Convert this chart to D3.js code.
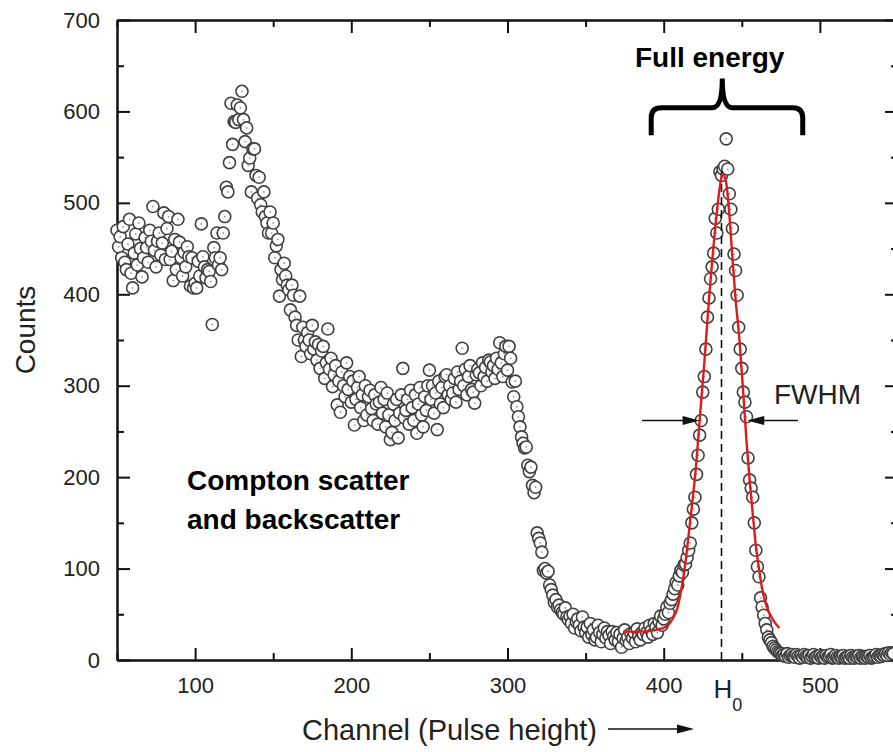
<!DOCTYPE html>
<html>
<head>
  <meta charset="utf-8">
  <title>Gamma spectrum</title>
  <style>
    body { margin: 0; background: #fff; }
    text { font-family: "Liberation Sans", Arial, sans-serif; }
  </style>
</head>
<body>
  <div id="plot"></div>
  <script src="https://cdn.jsdelivr.net/npm/d3@7"></script>
  <script>

    // measured spectrum, one value per channel, split by region
    let lowStart = 50;
    let lowCounts = [
      470, 452, 463, 440, 474, 435, 427, 455, 482, 423,
      407, 445, 466, 432, 478, 450, 419, 440, 462, 451,
      435, 470, 458, 496, 448, 430, 458, 467, 443, 456,
      489, 438, 472, 485, 438, 447, 415, 460, 427, 482,
      457, 440, 420, 446, 430, 452, 441, 409, 440, 407,
      412, 407, 436, 420, 477, 441, 430, 418, 427, 425,
      414, 367, 451, 440, 467, 432, 440, 427, 467, 485,
      517, 512, 544, 609, 564, 589, 588, 607, 591, 604,
      622, 591, 567, 582, 541, 549, 512, 559
    ];

    let comptonStart = 138;
    let comptonCounts = [
      559, 530, 505, 528, 498, 490, 512, 485, 478, 467, 490, 467,
      478, 440, 453, 460, 398, 427, 416, 434, 420, 410,
      405, 383, 410, 399, 375, 366, 350, 398, 332, 364,
      350, 343, 358, 350, 335, 366, 340, 348, 328, 345,
      319, 338, 343, 308, 325, 362, 318, 330, 299, 312,
      322, 279, 305, 271, 315, 300, 288, 325, 296, 310,
      282, 305, 257, 285, 298, 310, 276, 290, 262, 300,
      268, 288, 295, 275, 262, 290, 280, 258, 282, 298,
      270, 285, 255, 292, 268, 241, 249, 280, 262, 285,
      243, 270, 290, 319, 265, 273, 285, 258, 295, 276,
      262, 290, 248, 280, 298, 268, 255, 288, 273, 300,
      317, 285, 300, 270, 292, 252, 305, 280, 298, 276,
      310, 312, 290, 300, 285, 292, 308, 282, 315, 296,
      305, 341, 300, 318, 290, 310, 322, 296, 293, 281,
      312, 318, 314, 300, 325, 310, 320, 305, 328, 326,
      315, 322, 308, 330, 318, 347, 325, 310, 335, 343
    ];

    let edgeStart = 300;
    let edgeCounts = [
      317, 343, 330, 304, 288, 305, 277, 266, 255, 244,
      237, 232, 233, 213, 206, 211, 191, 183, 189, 139,
      133, 128, 118, 98, 100, 95, 97, 82, 77, 71,
      63, 66, 58, 60, 55, 52, 50, 57, 47, 44,
      48, 40, 50, 35, 42, 45, 38, 32, 47, 36,
      30, 36, 25, 40, 28, 33, 22, 25, 38, 30,
      20, 28, 35, 24, 31, 27, 18, 31, 26, 22,
      30, 20, 28, 14, 24, 33, 21, 25, 18, 29,
      24, 30, 20, 34, 26, 22, 30, 28, 35, 30,
      25, 38, 32, 28, 40, 36, 30, 42, 48, 38,
      45, 50, 58, 52, 62, 66, 72, 78, 85, 82,
      92, 98, 96, 104
    ];

    let peakStart = 414;
    let peakCounts = [
      105, 112, 120, 128, 150, 165, 178, 203, 224, 246,
      262, 293, 310, 340, 375, 396, 417, 430, 445, 483,
      467, 493, 534, 530, 537, 540, 570, 537, 510, 493,
      472, 444, 426, 399, 364, 340, 319, 293, 282, 266,
      221, 197, 188, 178, 150, 120, 102, 91, 68, 58,
      49, 40, 33, 25, 22, 19, 15, 13, 11, 9, 8
    ];

    let tailStart = 475;
    let tailCounts = [
      7, 5, 6, 4, 7, 3, 5, 6, 4, 3, 6, 4, 2, 5, 3, 6, 4, 3, 5, 2,
      4, 6, 3, 4, 2, 5, 3, 4, 2, 5, 3, 4, 6, 2, 3, 5, 3, 2, 4, 3,
      5, 2, 3, 4, 2, 5, 3, 2, 4, 3, 5, 2, 4, 3, 2, 4, 3, 5, 2, 3,
      4, 6, 3, 5, 4, 6, 5, 7, 5, 8, 6, 8, 7
    ];

    // gaussian fit drawn over the photopeak
    let fitChannels = [374, 385, 395, 402, 406, 409, 411, 413, 415, 417,
      419, 421, 423, 426, 429, 432, 435, 437, 438, 440,
      442, 444, 446, 448.5, 451, 453, 455, 457, 459, 461,
      463, 466, 470, 474];
    let fitCounts = [31, 31, 33, 37, 46, 58, 75, 95, 122, 153,
      183, 218, 262, 325, 395, 455, 505, 528, 531, 522,
      488, 440, 395, 350, 290, 240, 197, 160, 125, 100,
      78, 58, 44, 35];

    let peakChannel = 437;
    let fwhmLeft = 423;
    let fwhmRight = 453.5;
    let halfMax = 262;

    let xTicks = [100, 200, 300, 400, 500];
    let xMinor = [50, 150, 250, 350, 450, 550];
    let yTicks = [0, 100, 200, 300, 400, 500, 600, 700];
    let yMinor = [50, 150, 250, 350, 450, 550, 650];

    let data = [];
    [[lowStart, lowCounts], [comptonStart, comptonCounts], [edgeStart, edgeCounts],
     [peakStart, peakCounts], [tailStart, tailCounts]].forEach(function(seg) {
      seg[1].forEach(function(c, i) {
        data.push({ch: seg[0] + i, count: c});
      });
    });

    let svgWidth = 893;
    let svgHeight = 752;
    let plotLeft = 117, plotTop = 20, plotBottom = 660, plotRight = 898;

    let svg = d3.select('#plot')
      .append('svg')
        .attr('width', svgWidth)
        .attr('height', svgHeight)
        .style('display', 'block');

    let x = d3.scaleLinear().domain([50, 550]).range([plotLeft, plotRight]);
    let y = d3.scaleLinear().domain([0, 700]).range([plotBottom, plotTop]);

    function styleAxis(g) {
      g.select('.domain').attr('stroke', '#111').attr('stroke-width', 2);
      g.selectAll('.tick line').attr('stroke', '#111').attr('stroke-width', 2);
      g.selectAll('.tick text')
        .attr('fill', '#222')
        .style('font-size', '22px');
    }

    function addAxis(axis, tx, ty) {
      svg.append('g')
        .attr('transform', 'translate(' + tx + ',' + ty + ')')
        .call(axis)
        .call(styleAxis);
    }

    // bottom
    addAxis(d3.axisBottom(x).tickValues(xMinor).tickSizeInner(-7).tickSizeOuter(0).tickFormat(''), 0, plotBottom);
    addAxis(d3.axisBottom(x).tickValues(xTicks).tickSizeInner(-12).tickSizeOuter(0).tickPadding(17), 0, plotBottom);
    // top
    addAxis(d3.axisTop(x).tickValues(xMinor).tickSizeInner(-7).tickSizeOuter(0).tickFormat(''), 0, plotTop);
    addAxis(d3.axisTop(x).tickValues(xTicks).tickSizeInner(-13).tickSizeOuter(0).tickFormat(''), 0, plotTop);
    // left
    addAxis(d3.axisLeft(y).tickValues(yMinor).tickSizeInner(-7).tickSizeOuter(0).tickFormat(''), plotLeft, 0);
    addAxis(d3.axisLeft(y).tickValues(yTicks).tickSizeInner(-13).tickSizeOuter(0).tickPadding(17), plotLeft, 0);
    // right
    addAxis(d3.axisRight(y).tickValues(yMinor).tickSizeInner(-7).tickSizeOuter(0).tickFormat(''), plotRight, 0);
    addAxis(d3.axisRight(y).tickValues(yTicks).tickSizeInner(-13).tickSizeOuter(0).tickFormat(''), plotRight, 0);

    // points
    let pts = svg.append('g')
      .selectAll('g')
      .data(data)
      .enter()
      .append('g')
        .attr('transform', d => 'translate(' + x(d.ch) + ',' + y(d.count) + ')');
    pts.append('circle')
      .attr('r', 6)
      .attr('fill', '#fff')
      .attr('stroke', '#404040')
      .attr('stroke-width', 1.6);
    pts.append('circle')
      .attr('r', 0.9)
      .attr('fill', '#999');

    // peak position
    svg.append('line')
      .attr('x1', x(peakChannel)).attr('x2', x(peakChannel))
      .attr('y1', y(0)).attr('y2', y(535))
      .attr('stroke', '#111')
      .attr('stroke-width', 1.6)
      .attr('stroke-dasharray', '8,5');

    // fit
    let fit = fitChannels.map((c, i) => [c, fitCounts[i]]);
    svg.append('path')
      .datum(fit)
      .attr('fill', 'none')
      .attr('stroke', '#e0191b')
      .attr('stroke-width', 2.4)
      .attr('d', d3.line().x(d => x(d[0])).y(d => y(d[1])).curve(d3.curveMonotoneX));

    // arrows
    function arrow(x1, x2, yy) {
      let dir = x2 > x1 ? 1 : -1;
      svg.append('line')
        .attr('x1', x1).attr('x2', x2 - dir * 10)
        .attr('y1', yy).attr('y2', yy)
        .attr('stroke', '#111').attr('stroke-width', 1.6);
      svg.append('path')
        .attr('d', 'M' + x2 + ',' + yy + 'L' + (x2 - dir * 17) + ',' + (yy - 4.5) +
                   'L' + (x2 - dir * 17) + ',' + (yy + 4.5) + 'Z')
        .attr('fill', '#111');
    }
    arrow(642, x(fwhmLeft), y(halfMax));
    arrow(798, x(fwhmRight), y(halfMax));
    arrow(608, 694, 729);

    // brace over the photopeak
    let bl = x(392), br = x(489), bm = x(peakChannel + 0.5);
    let bb = y(574), bt = y(604), btip = y(636);
    let r = 10;
    svg.append('path')
      .attr('d', 'M' + bl + ',' + bb + 'V' + (bt + r) + 'Q' + bl + ',' + bt + ' ' + (bl + r) + ',' + bt +
        'H' + (bm - r) + 'Q' + bm + ',' + bt + ' ' + bm + ',' + btip +
        'Q' + bm + ',' + bt + ' ' + (bm + r) + ',' + bt +
        'H' + (br - r) + 'Q' + br + ',' + bt + ' ' + br + ',' + (bt + r) + 'V' + bb)
      .attr('fill', 'none')
      .attr('stroke', '#000')
      .attr('stroke-width', 5);

    // labels
    svg.append('text')
      .attr('x', 635).attr('y', 67)
      .style('font-size', '28px').style('font-weight', 'bold')
      .text('Full energy');

    svg.append('text')
      .attr('x', 187).attr('y', 490)
      .style('font-size', '28px').style('font-weight', 'bold')
      .text('Compton scatter');
    svg.append('text')
      .attr('x', 187).attr('y', 529)
      .style('font-size', '28px').style('font-weight', 'bold')
      .text('and backscatter');

    svg.append('text')
      .attr('x', 774).attr('y', 404)
      .attr('fill', '#222')
      .style('font-size', '28px')
      .text('FWHM');

    let h0 = svg.append('text')
      .attr('x', x(peakChannel) - 8).attr('y', 698)
      .attr('fill', '#222')
      .style('font-size', '26px');
    h0.append('tspan').text('H');
    h0.append('tspan').attr('dy', 13).style('font-size', '18px').text('0');

    svg.append('text')
      .attr('x', 302).attr('y', 740)
      .attr('fill', '#222')
      .style('font-size', '29px')
      .text('Channel (Pulse height)');

    svg.append('text')
      .attr('transform', 'translate(35,330) rotate(-90)')
      .attr('text-anchor', 'middle')
      .attr('fill', '#222')
      .style('font-size', '28px')
      .text('Counts');

  </script>
</body>
</html>
